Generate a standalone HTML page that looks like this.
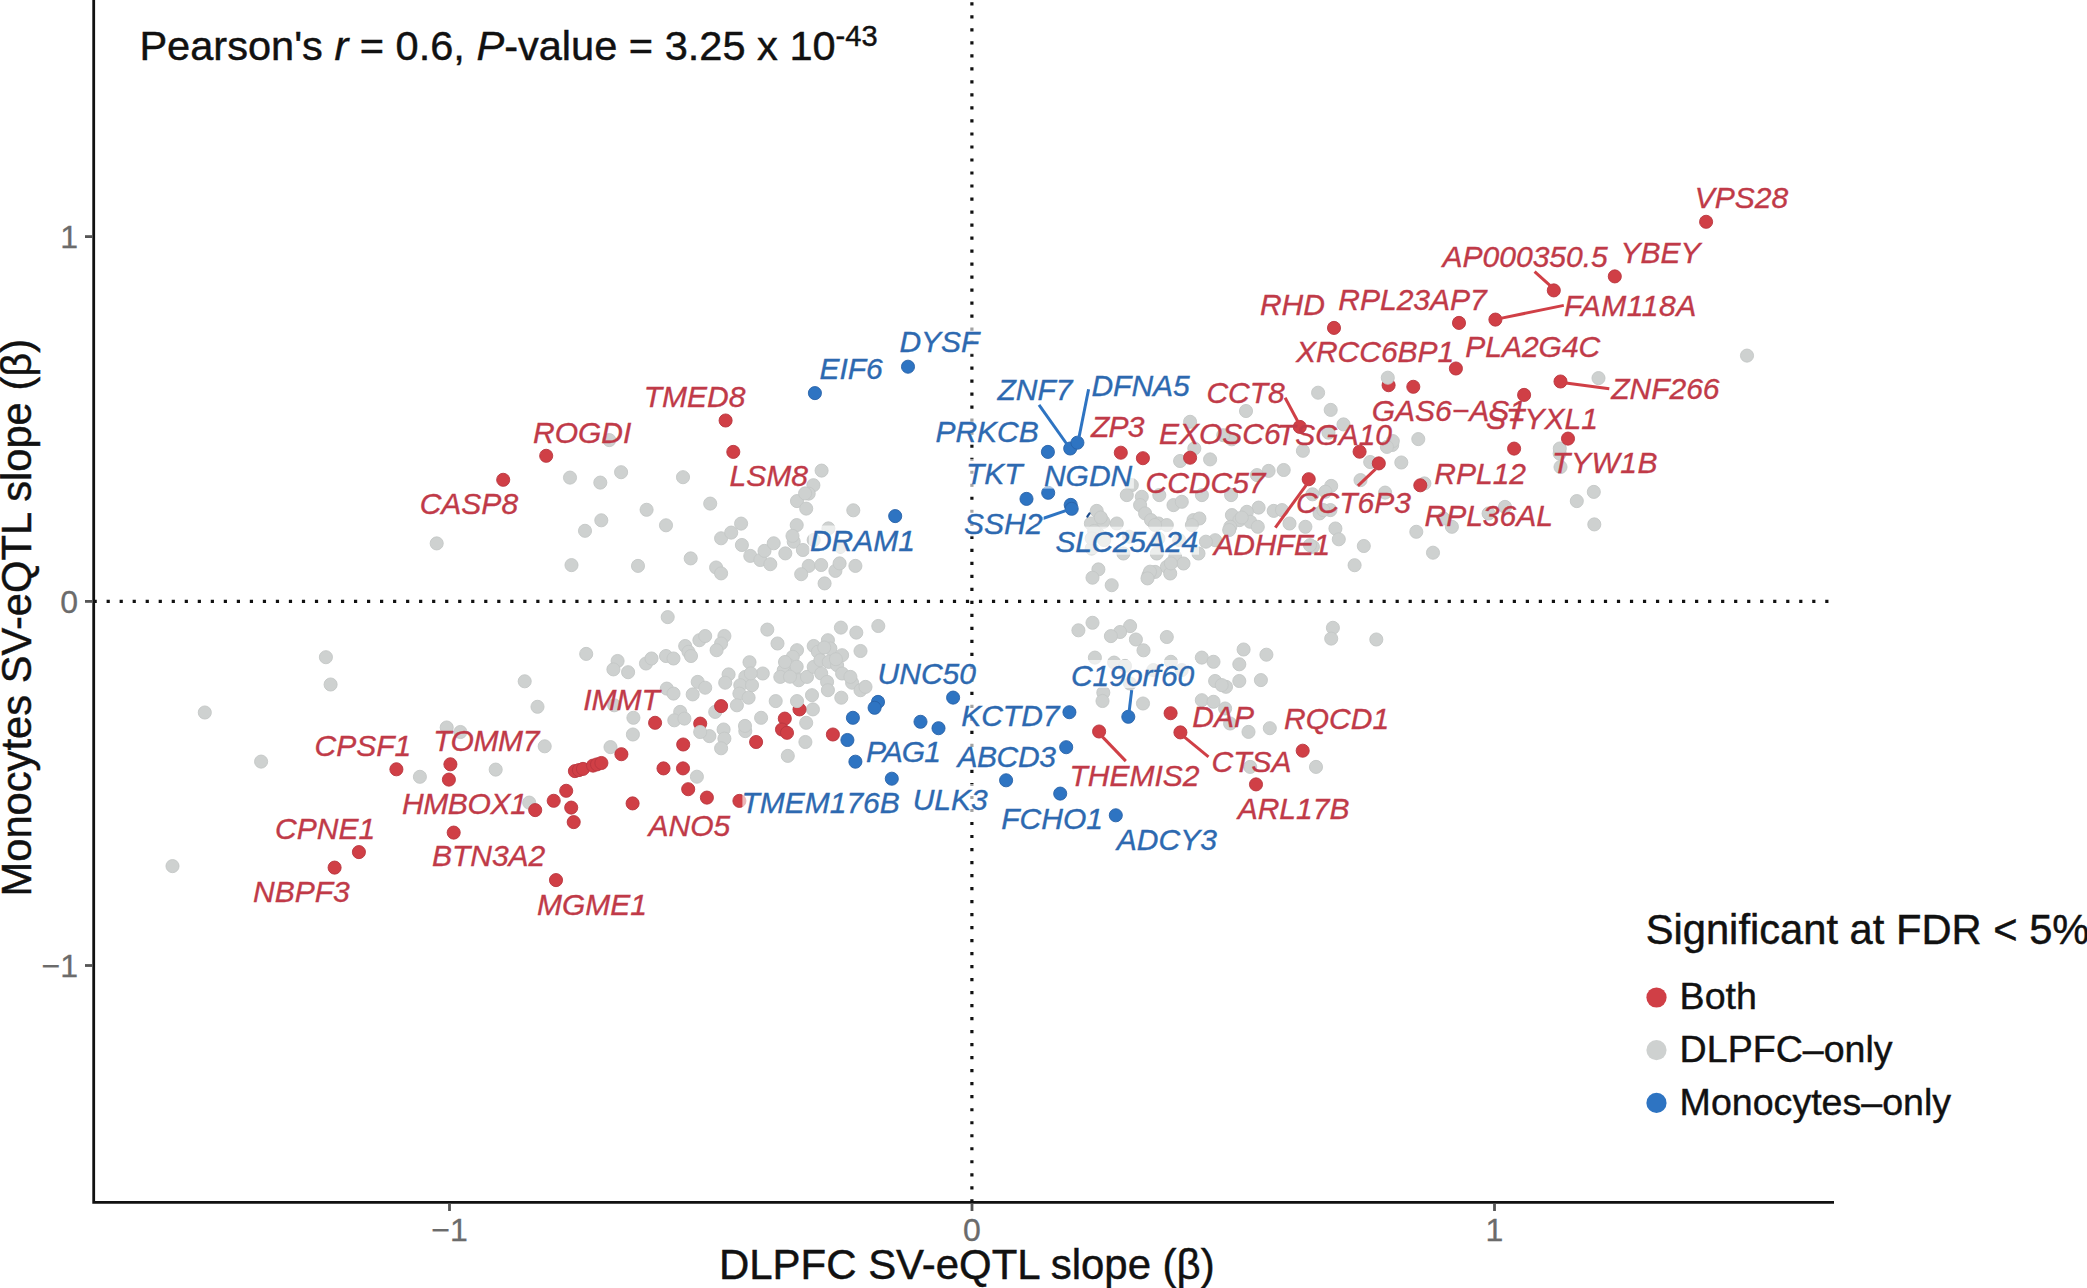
<!DOCTYPE html>
<html lang="en"><head><meta charset="utf-8"><title>SV-eQTL slope comparison</title>
<style>
html,body{margin:0;padding:0;background:#fff;}
body{width:2087px;height:1288px;overflow:hidden;}
svg{display:block;font-family:"Liberation Sans",sans-serif;}
.gl{font-style:italic;font-size:30px;stroke-width:0.35px;}
.ax{font-size:32px;fill:#6b6b6b;stroke:#6b6b6b;stroke-width:0.3px;}
.tt{font-size:41.7px;fill:#111;stroke:#111;stroke-width:0.45px;}
.lg{font-size:37.6px;fill:#111;stroke:#111;stroke-width:0.4px;}
</style></head><body>
<svg width="2087" height="1288" viewBox="0 0 2087 1288">
<rect width="2087" height="1288" fill="#fff"/>
<line x1="93.58" y1="601.4" x2="1834" y2="601.4" stroke="#111" stroke-width="3.2" stroke-dasharray="3.2 9.82"/>
<line x1="971.9" y1="2.28" x2="971.9" y2="1202" stroke="#111" stroke-width="3.2" stroke-dasharray="3.2 9.81"/>
<g fill="#CED1D0" stroke="#C4C7C6" stroke-width="0.9">
<circle cx="570.0" cy="477.6" r="6.55"/>
<circle cx="600.3" cy="482.6" r="6.55"/>
<circle cx="601.3" cy="520.3" r="6.55"/>
<circle cx="585.0" cy="530.8" r="6.55"/>
<circle cx="436.7" cy="543.4" r="6.55"/>
<circle cx="571.5" cy="565.1" r="6.55"/>
<circle cx="325.9" cy="657.2" r="6.55"/>
<circle cx="586.2" cy="653.9" r="6.55"/>
<circle cx="609.3" cy="440.1" r="6.55"/>
<circle cx="330.6" cy="684.5" r="6.55"/>
<circle cx="204.8" cy="712.5" r="6.55"/>
<circle cx="261.1" cy="761.6" r="6.55"/>
<circle cx="172.5" cy="866.1" r="6.55"/>
<circle cx="524.7" cy="681.3" r="6.55"/>
<circle cx="537.5" cy="706.8" r="6.55"/>
<circle cx="446.7" cy="727.5" r="6.55"/>
<circle cx="460.4" cy="732.0" r="6.55"/>
<circle cx="544.7" cy="746.3" r="6.55"/>
<circle cx="610.5" cy="747.1" r="6.55"/>
<circle cx="419.9" cy="776.8" r="6.55"/>
<circle cx="495.7" cy="769.6" r="6.55"/>
<circle cx="529.2" cy="802.6" r="6.55"/>
<circle cx="621.1" cy="472.2" r="6.55"/>
<circle cx="683.0" cy="477.2" r="6.55"/>
<circle cx="821.6" cy="470.6" r="6.55"/>
<circle cx="813.4" cy="485.2" r="6.55"/>
<circle cx="808.7" cy="493.6" r="6.55"/>
<circle cx="797.0" cy="501.1" r="6.55"/>
<circle cx="806.2" cy="508.6" r="6.55"/>
<circle cx="710.2" cy="503.6" r="6.55"/>
<circle cx="646.6" cy="509.8" r="6.55"/>
<circle cx="666.0" cy="525.3" r="6.55"/>
<circle cx="741.1" cy="523.6" r="6.55"/>
<circle cx="853.3" cy="510.3" r="6.55"/>
<circle cx="638.0" cy="565.9" r="6.55"/>
<circle cx="690.7" cy="558.4" r="6.55"/>
<circle cx="716.1" cy="567.5" r="6.55"/>
<circle cx="721.1" cy="573.4" r="6.55"/>
<circle cx="721.1" cy="538.3" r="6.55"/>
<circle cx="741.9" cy="545.0" r="6.55"/>
<circle cx="750.3" cy="555.9" r="6.55"/>
<circle cx="760.3" cy="560.0" r="6.55"/>
<circle cx="770.3" cy="564.2" r="6.55"/>
<circle cx="764.5" cy="550.9" r="6.55"/>
<circle cx="773.7" cy="543.3" r="6.55"/>
<circle cx="785.3" cy="553.4" r="6.55"/>
<circle cx="793.7" cy="541.7" r="6.55"/>
<circle cx="802.9" cy="550.0" r="6.55"/>
<circle cx="808.7" cy="565.9" r="6.55"/>
<circle cx="801.2" cy="574.2" r="6.55"/>
<circle cx="821.2" cy="565.0" r="6.55"/>
<circle cx="824.6" cy="583.4" r="6.55"/>
<circle cx="835.4" cy="570.9" r="6.55"/>
<circle cx="839.6" cy="563.4" r="6.55"/>
<circle cx="855.4" cy="565.9" r="6.55"/>
<circle cx="840.4" cy="546.7" r="6.55"/>
<circle cx="813.7" cy="540.0" r="6.55"/>
<circle cx="667.7" cy="617.1" r="6.55"/>
<circle cx="767.3" cy="629.6" r="6.55"/>
<circle cx="777.5" cy="643.5" r="6.55"/>
<circle cx="840.9" cy="627.6" r="6.55"/>
<circle cx="856.3" cy="632.6" r="6.55"/>
<circle cx="878.3" cy="626.0" r="6.55"/>
<circle cx="617.6" cy="661.0" r="6.55"/>
<circle cx="613.4" cy="669.4" r="6.55"/>
<circle cx="628.1" cy="672.2" r="6.55"/>
<circle cx="646.0" cy="663.5" r="6.55"/>
<circle cx="651.5" cy="658.5" r="6.55"/>
<circle cx="666.0" cy="656.0" r="6.55"/>
<circle cx="673.5" cy="658.5" r="6.55"/>
<circle cx="685.2" cy="646.0" r="6.55"/>
<circle cx="688.5" cy="651.8" r="6.55"/>
<circle cx="691.0" cy="656.0" r="6.55"/>
<circle cx="699.4" cy="640.2" r="6.55"/>
<circle cx="705.2" cy="636.0" r="6.55"/>
<circle cx="724.4" cy="636.0" r="6.55"/>
<circle cx="721.1" cy="643.5" r="6.55"/>
<circle cx="716.6" cy="650.2" r="6.55"/>
<circle cx="749.5" cy="662.2" r="6.55"/>
<circle cx="728.6" cy="674.4" r="6.55"/>
<circle cx="725.2" cy="682.7" r="6.55"/>
<circle cx="697.7" cy="681.9" r="6.55"/>
<circle cx="705.2" cy="687.7" r="6.55"/>
<circle cx="692.7" cy="694.4" r="6.55"/>
<circle cx="666.8" cy="688.6" r="6.55"/>
<circle cx="673.5" cy="693.6" r="6.55"/>
<circle cx="762.8" cy="673.5" r="6.55"/>
<circle cx="745.3" cy="676.9" r="6.55"/>
<circle cx="740.3" cy="685.2" r="6.55"/>
<circle cx="752.0" cy="685.2" r="6.55"/>
<circle cx="739.4" cy="693.6" r="6.55"/>
<circle cx="748.6" cy="697.7" r="6.55"/>
<circle cx="736.9" cy="705.3" r="6.55"/>
<circle cx="775.7" cy="701.1" r="6.55"/>
<circle cx="812.0" cy="695.2" r="6.55"/>
<circle cx="812.9" cy="709.4" r="6.55"/>
<circle cx="841.3" cy="697.7" r="6.55"/>
<circle cx="761.1" cy="717.8" r="6.55"/>
<circle cx="806.2" cy="722.8" r="6.55"/>
<circle cx="805.4" cy="742.0" r="6.55"/>
<circle cx="745.3" cy="731.1" r="6.55"/>
<circle cx="723.6" cy="729.5" r="6.55"/>
<circle cx="724.4" cy="738.6" r="6.55"/>
<circle cx="709.4" cy="736.1" r="6.55"/>
<circle cx="715.2" cy="711.9" r="6.55"/>
<circle cx="680.2" cy="711.9" r="6.55"/>
<circle cx="674.3" cy="720.3" r="6.55"/>
<circle cx="684.4" cy="718.6" r="6.55"/>
<circle cx="633.4" cy="717.8" r="6.55"/>
<circle cx="632.9" cy="734.5" r="6.55"/>
<circle cx="614.2" cy="705.3" r="6.55"/>
<circle cx="797.0" cy="650.2" r="6.55"/>
<circle cx="792.8" cy="656.8" r="6.55"/>
<circle cx="813.7" cy="646.0" r="6.55"/>
<circle cx="817.9" cy="651.8" r="6.55"/>
<circle cx="827.9" cy="640.2" r="6.55"/>
<circle cx="830.4" cy="648.5" r="6.55"/>
<circle cx="842.1" cy="655.2" r="6.55"/>
<circle cx="860.5" cy="651.0" r="6.55"/>
<circle cx="788.7" cy="665.2" r="6.55"/>
<circle cx="783.7" cy="670.2" r="6.55"/>
<circle cx="780.3" cy="676.9" r="6.55"/>
<circle cx="793.7" cy="673.5" r="6.55"/>
<circle cx="798.7" cy="680.2" r="6.55"/>
<circle cx="807.0" cy="676.9" r="6.55"/>
<circle cx="813.7" cy="666.9" r="6.55"/>
<circle cx="820.4" cy="660.2" r="6.55"/>
<circle cx="828.7" cy="661.9" r="6.55"/>
<circle cx="837.1" cy="665.2" r="6.55"/>
<circle cx="842.1" cy="673.5" r="6.55"/>
<circle cx="821.2" cy="673.5" r="6.55"/>
<circle cx="827.1" cy="681.9" r="6.55"/>
<circle cx="827.9" cy="690.2" r="6.55"/>
<circle cx="852.1" cy="682.7" r="6.55"/>
<circle cx="860.5" cy="690.2" r="6.55"/>
<circle cx="865.5" cy="686.9" r="6.55"/>
<circle cx="850.4" cy="676.9" r="6.55"/>
<circle cx="721.1" cy="748.3" r="6.55"/>
<circle cx="787.8" cy="755.9" r="6.55"/>
<circle cx="696.9" cy="776.7" r="6.55"/>
<circle cx="1246.0" cy="411.0" r="6.55"/>
<circle cx="1190.1" cy="421.8" r="6.55"/>
<circle cx="1194.3" cy="448.5" r="6.55"/>
<circle cx="1180.1" cy="461.0" r="6.55"/>
<circle cx="1210.1" cy="459.4" r="6.55"/>
<circle cx="1231.8" cy="439.3" r="6.55"/>
<circle cx="1302.9" cy="450.8" r="6.55"/>
<circle cx="1283.7" cy="470.0" r="6.55"/>
<circle cx="1268.6" cy="470.9" r="6.55"/>
<circle cx="1257.0" cy="475.1" r="6.55"/>
<circle cx="1401.3" cy="462.5" r="6.55"/>
<circle cx="1392.2" cy="445.0" r="6.55"/>
<circle cx="1360.5" cy="480.1" r="6.55"/>
<circle cx="1331.2" cy="485.9" r="6.55"/>
<circle cx="1325.4" cy="491.7" r="6.55"/>
<circle cx="1131.8" cy="485.1" r="6.55"/>
<circle cx="1126.8" cy="495.1" r="6.55"/>
<circle cx="1141.8" cy="496.8" r="6.55"/>
<circle cx="1140.1" cy="505.1" r="6.55"/>
<circle cx="1145.1" cy="513.4" r="6.55"/>
<circle cx="1151.0" cy="520.1" r="6.55"/>
<circle cx="1158.5" cy="523.5" r="6.55"/>
<circle cx="1166.8" cy="525.1" r="6.55"/>
<circle cx="1159.3" cy="495.1" r="6.55"/>
<circle cx="1173.5" cy="505.1" r="6.55"/>
<circle cx="1181.8" cy="501.8" r="6.55"/>
<circle cx="1201.9" cy="495.1" r="6.55"/>
<circle cx="1231.1" cy="495.1" r="6.55"/>
<circle cx="1258.6" cy="507.6" r="6.55"/>
<circle cx="1246.9" cy="511.8" r="6.55"/>
<circle cx="1231.9" cy="515.1" r="6.55"/>
<circle cx="1239.4" cy="520.1" r="6.55"/>
<circle cx="1250.3" cy="521.8" r="6.55"/>
<circle cx="1257.8" cy="526.8" r="6.55"/>
<circle cx="1230.3" cy="526.8" r="6.55"/>
<circle cx="1273.7" cy="510.9" r="6.55"/>
<circle cx="1282.0" cy="510.1" r="6.55"/>
<circle cx="1289.5" cy="523.5" r="6.55"/>
<circle cx="1305.4" cy="526.8" r="6.55"/>
<circle cx="1319.6" cy="513.4" r="6.55"/>
<circle cx="1330.4" cy="510.1" r="6.55"/>
<circle cx="1335.4" cy="528.5" r="6.55"/>
<circle cx="1338.8" cy="539.3" r="6.55"/>
<circle cx="1312.9" cy="546.8" r="6.55"/>
<circle cx="1363.8" cy="546.0" r="6.55"/>
<circle cx="1354.6" cy="565.2" r="6.55"/>
<circle cx="1096.7" cy="510.9" r="6.55"/>
<circle cx="1090.9" cy="523.5" r="6.55"/>
<circle cx="1103.4" cy="521.8" r="6.55"/>
<circle cx="1116.8" cy="523.5" r="6.55"/>
<circle cx="1097.6" cy="533.5" r="6.55"/>
<circle cx="1193.5" cy="520.1" r="6.55"/>
<circle cx="1199.4" cy="518.5" r="6.55"/>
<circle cx="1191.9" cy="525.1" r="6.55"/>
<circle cx="1215.2" cy="540.2" r="6.55"/>
<circle cx="1198.5" cy="553.5" r="6.55"/>
<circle cx="1175.2" cy="556.8" r="6.55"/>
<circle cx="1156.8" cy="553.5" r="6.55"/>
<circle cx="1123.4" cy="553.5" r="6.55"/>
<circle cx="1091.7" cy="548.5" r="6.55"/>
<circle cx="1166.8" cy="566.9" r="6.55"/>
<circle cx="1183.5" cy="563.5" r="6.55"/>
<circle cx="1170.2" cy="573.5" r="6.55"/>
<circle cx="1155.1" cy="571.9" r="6.55"/>
<circle cx="1148.5" cy="575.2" r="6.55"/>
<circle cx="1098.4" cy="569.4" r="6.55"/>
<circle cx="1092.5" cy="577.7" r="6.55"/>
<circle cx="1111.7" cy="585.2" r="6.55"/>
<circle cx="1092.5" cy="622.8" r="6.55"/>
<circle cx="1078.4" cy="630.3" r="6.55"/>
<circle cx="1130.1" cy="626.1" r="6.55"/>
<circle cx="1120.1" cy="632.0" r="6.55"/>
<circle cx="1110.9" cy="636.1" r="6.55"/>
<circle cx="1135.9" cy="639.5" r="6.55"/>
<circle cx="1166.8" cy="637.0" r="6.55"/>
<circle cx="1143.5" cy="650.3" r="6.55"/>
<circle cx="1243.6" cy="649.5" r="6.55"/>
<circle cx="1332.9" cy="627.8" r="6.55"/>
<circle cx="1331.2" cy="638.6" r="6.55"/>
<circle cx="1376.3" cy="639.5" r="6.55"/>
<circle cx="1094.9" cy="657.6" r="6.55"/>
<circle cx="1114.1" cy="662.6" r="6.55"/>
<circle cx="1125.0" cy="665.9" r="6.55"/>
<circle cx="1170.9" cy="661.8" r="6.55"/>
<circle cx="1201.8" cy="657.6" r="6.55"/>
<circle cx="1213.5" cy="661.8" r="6.55"/>
<circle cx="1239.3" cy="664.3" r="6.55"/>
<circle cx="1103.3" cy="692.6" r="6.55"/>
<circle cx="1102.5" cy="701.0" r="6.55"/>
<circle cx="1143.0" cy="703.5" r="6.55"/>
<circle cx="1215.1" cy="681.0" r="6.55"/>
<circle cx="1226.0" cy="686.8" r="6.55"/>
<circle cx="1239.3" cy="681.0" r="6.55"/>
<circle cx="1201.8" cy="700.2" r="6.55"/>
<circle cx="1213.5" cy="701.8" r="6.55"/>
<circle cx="1225.1" cy="708.5" r="6.55"/>
<circle cx="1230.1" cy="723.5" r="6.55"/>
<circle cx="1248.5" cy="731.9" r="6.55"/>
<circle cx="1250.2" cy="766.9" r="6.55"/>
<circle cx="1153.4" cy="670.1" r="6.55"/>
<circle cx="1181.7" cy="670.1" r="6.55"/>
<circle cx="1130.0" cy="683.5" r="6.55"/>
<circle cx="1318.1" cy="392.7" r="6.55"/>
<circle cx="1330.7" cy="409.9" r="6.55"/>
<circle cx="1343.5" cy="424.4" r="6.55"/>
<circle cx="1328.5" cy="432.7" r="6.55"/>
<circle cx="1392.8" cy="441.1" r="6.55"/>
<circle cx="1386.9" cy="446.9" r="6.55"/>
<circle cx="1418.3" cy="439.1" r="6.55"/>
<circle cx="1370.2" cy="462.0" r="6.55"/>
<circle cx="1559.7" cy="453.6" r="6.55"/>
<circle cx="1560.5" cy="467.0" r="6.55"/>
<circle cx="1223.3" cy="435.2" r="6.55"/>
<circle cx="1747.0" cy="355.6" r="6.55"/>
<circle cx="1598.5" cy="378.1" r="6.55"/>
<circle cx="1559.8" cy="448.5" r="6.55"/>
<circle cx="1593.8" cy="491.9" r="6.55"/>
<circle cx="1576.8" cy="501.1" r="6.55"/>
<circle cx="1594.3" cy="524.4" r="6.55"/>
<circle cx="1505.0" cy="506.9" r="6.55"/>
<circle cx="1424.4" cy="483.4" r="6.55"/>
<circle cx="1385.1" cy="492.6" r="6.55"/>
<circle cx="1312.5" cy="494.3" r="6.55"/>
<circle cx="1323.4" cy="510.1" r="6.55"/>
<circle cx="1310.0" cy="545.2" r="6.55"/>
<circle cx="1416.3" cy="531.8" r="6.55"/>
<circle cx="1451.9" cy="526.8" r="6.55"/>
<circle cx="1443.5" cy="518.5" r="6.55"/>
<circle cx="1433.0" cy="552.7" r="6.55"/>
<circle cx="1488.6" cy="513.5" r="6.55"/>
<circle cx="1266.4" cy="654.7" r="6.55"/>
<circle cx="1260.9" cy="680.1" r="6.55"/>
<circle cx="1221.7" cy="685.1" r="6.55"/>
<circle cx="1269.8" cy="728.2" r="6.55"/>
<circle cx="1316.0" cy="766.9" r="6.55"/>
<circle cx="805.1" cy="493.4" r="6.55"/>
<circle cx="796.7" cy="525.1" r="6.55"/>
<circle cx="828.4" cy="528.4" r="6.55"/>
<circle cx="792.5" cy="535.9" r="6.55"/>
<circle cx="785.0" cy="662.0" r="6.55"/>
<circle cx="1094.2" cy="530.9" r="6.55"/>
<circle cx="1100.8" cy="517.5" r="6.55"/>
<circle cx="1155.0" cy="525.0" r="6.55"/>
<circle cx="1229.2" cy="530.0" r="6.55"/>
<circle cx="1241.8" cy="517.5" r="6.55"/>
<circle cx="1205.9" cy="541.7" r="6.55"/>
<circle cx="1170.9" cy="563.4" r="6.55"/>
<circle cx="1150.0" cy="571.7" r="6.55"/>
<circle cx="1147.5" cy="578.4" r="6.55"/>
<circle cx="1091.7" cy="538.4" r="6.55"/>
<circle cx="1104.2" cy="540.0" r="6.55"/>
<circle cx="1129.2" cy="536.7" r="6.55"/>
<circle cx="1158.4" cy="538.4" r="6.55"/>
<circle cx="1179.2" cy="540.0" r="6.55"/>
<circle cx="824.2" cy="647.5" r="6.55"/>
<circle cx="835.9" cy="659.2" r="6.55"/>
<circle cx="796.7" cy="666.7" r="6.55"/>
<circle cx="790.0" cy="676.7" r="6.55"/>
<circle cx="750.8" cy="673.4" r="6.55"/>
<circle cx="745.0" cy="725.9" r="6.55"/>
<circle cx="731.2" cy="532.6" r="6.55"/>
</g>
<g fill="#2E74C2" stroke="#2862A8" stroke-width="0.9">
<circle cx="814.9" cy="393.1" r="6.55"/>
<circle cx="895.2" cy="516.1" r="6.55"/>
<circle cx="878.0" cy="701.9" r="6.55"/>
<circle cx="874.6" cy="707.8" r="6.55"/>
<circle cx="852.9" cy="717.8" r="6.55"/>
<circle cx="847.4" cy="740.0" r="6.55"/>
<circle cx="855.4" cy="761.7" r="6.55"/>
<circle cx="891.8" cy="778.7" r="6.55"/>
<circle cx="908.0" cy="366.7" r="6.55"/>
<circle cx="1047.9" cy="451.9" r="6.55"/>
<circle cx="1070.2" cy="448.5" r="6.55"/>
<circle cx="1077.4" cy="442.7" r="6.55"/>
<circle cx="1026.5" cy="498.9" r="6.55"/>
<circle cx="1048.2" cy="492.8" r="6.55"/>
<circle cx="1070.7" cy="504.9" r="6.55"/>
<circle cx="1071.7" cy="508.8" r="6.55"/>
<circle cx="953.1" cy="697.6" r="6.55"/>
<circle cx="920.5" cy="721.8" r="6.55"/>
<circle cx="938.5" cy="728.2" r="6.55"/>
<circle cx="1069.4" cy="712.2" r="6.55"/>
<circle cx="1128.3" cy="716.8" r="6.55"/>
<circle cx="1066.2" cy="747.2" r="6.55"/>
<circle cx="1006.1" cy="780.3" r="6.55"/>
<circle cx="1060.2" cy="793.6" r="6.55"/>
<circle cx="1115.8" cy="815.3" r="6.55"/>
</g>
<g fill="#D03F46" stroke="#B93740" stroke-width="0.9">
<circle cx="546.2" cy="455.8" r="6.55"/>
<circle cx="503.2" cy="479.8" r="6.55"/>
<circle cx="396.4" cy="769.3" r="6.55"/>
<circle cx="450.4" cy="764.3" r="6.55"/>
<circle cx="448.9" cy="779.6" r="6.55"/>
<circle cx="566.2" cy="790.8" r="6.55"/>
<circle cx="553.7" cy="800.8" r="6.55"/>
<circle cx="571.2" cy="807.6" r="6.55"/>
<circle cx="535.2" cy="810.1" r="6.55"/>
<circle cx="573.7" cy="822.1" r="6.55"/>
<circle cx="453.7" cy="832.6" r="6.55"/>
<circle cx="358.9" cy="852.1" r="6.55"/>
<circle cx="334.6" cy="867.6" r="6.55"/>
<circle cx="556.0" cy="880.1" r="6.55"/>
<circle cx="725.6" cy="420.5" r="6.55"/>
<circle cx="733.3" cy="451.9" r="6.55"/>
<circle cx="721.1" cy="706.1" r="6.55"/>
<circle cx="655.1" cy="722.8" r="6.55"/>
<circle cx="700.2" cy="723.6" r="6.55"/>
<circle cx="683.2" cy="744.5" r="6.55"/>
<circle cx="756.1" cy="742.0" r="6.55"/>
<circle cx="784.8" cy="718.6" r="6.55"/>
<circle cx="782.0" cy="729.5" r="6.55"/>
<circle cx="787.0" cy="732.8" r="6.55"/>
<circle cx="799.5" cy="709.4" r="6.55"/>
<circle cx="832.9" cy="734.5" r="6.55"/>
<circle cx="621.4" cy="754.2" r="6.55"/>
<circle cx="663.5" cy="768.4" r="6.55"/>
<circle cx="683.0" cy="768.4" r="6.55"/>
<circle cx="688.2" cy="789.2" r="6.55"/>
<circle cx="706.9" cy="797.6" r="6.55"/>
<circle cx="739.4" cy="800.9" r="6.55"/>
<circle cx="632.6" cy="803.4" r="6.55"/>
<circle cx="1120.8" cy="452.7" r="6.55"/>
<circle cx="1142.9" cy="458.2" r="6.55"/>
<circle cx="1190.1" cy="457.7" r="6.55"/>
<circle cx="1359.6" cy="451.7" r="6.55"/>
<circle cx="1378.8" cy="463.4" r="6.55"/>
<circle cx="1308.7" cy="479.2" r="6.55"/>
<circle cx="1170.6" cy="713.2" r="6.55"/>
<circle cx="1099.1" cy="731.5" r="6.55"/>
<circle cx="1180.4" cy="732.4" r="6.55"/>
<circle cx="1256.0" cy="784.4" r="6.55"/>
<circle cx="1334.0" cy="327.9" r="6.55"/>
<circle cx="1459.0" cy="322.9" r="6.55"/>
<circle cx="1495.4" cy="319.6" r="6.55"/>
<circle cx="1553.8" cy="290.4" r="6.55"/>
<circle cx="1455.9" cy="368.5" r="6.55"/>
<circle cx="1388.6" cy="385.2" r="6.55"/>
<circle cx="1413.3" cy="386.8" r="6.55"/>
<circle cx="1524.1" cy="394.9" r="6.55"/>
<circle cx="1560.5" cy="381.5" r="6.55"/>
<circle cx="1299.8" cy="426.9" r="6.55"/>
<circle cx="1514.1" cy="448.6" r="6.55"/>
<circle cx="1568.0" cy="438.6" r="6.55"/>
<circle cx="1420.3" cy="485.3" r="6.55"/>
<circle cx="1706.1" cy="221.8" r="6.55"/>
<circle cx="1614.8" cy="276.4" r="6.55"/>
<circle cx="1302.7" cy="750.7" r="6.55"/>
<circle cx="574.9" cy="771.1" r="6.55"/>
<circle cx="578.9" cy="770.1" r="6.55"/>
<circle cx="583.0" cy="768.9" r="6.55"/>
<circle cx="593.0" cy="765.6" r="6.55"/>
<circle cx="597.0" cy="764.4" r="6.55"/>
<circle cx="601.4" cy="763.0" r="6.55"/>
</g>
<g fill="#CED1D0" stroke="#C4C7C6" stroke-width="0.9">
<circle cx="797.0" cy="701.1" r="6.55"/>
<circle cx="700.2" cy="732.0" r="6.55"/>
<circle cx="1387.8" cy="377.7" r="6.55"/>
</g>
<line x1="1087.3" y1="516.6" x2="1089.6" y2="513.3" stroke="#1d4c8c" stroke-width="2.2" stroke-linecap="round"/>
<line x1="1039.0" y1="404.8" x2="1068.2" y2="446.0" stroke="#2E74C2" stroke-width="3" stroke-linecap="butt"/>
<line x1="1088.6" y1="389.3" x2="1079.1" y2="436.8" stroke="#2E74C2" stroke-width="3" stroke-linecap="butt"/>
<line x1="1039.9" y1="519.5" x2="1066.6" y2="510.3" stroke="#2E74C2" stroke-width="3" stroke-linecap="butt"/>
<line x1="1306.2" y1="485.1" x2="1275.3" y2="527.6" stroke="#D03F46" stroke-width="3" stroke-linecap="butt"/>
<line x1="1375.5" y1="469.2" x2="1357.9" y2="485.9" stroke="#D03F46" stroke-width="3" stroke-linecap="butt"/>
<line x1="1131.7" y1="690.1" x2="1129.2" y2="711.0" stroke="#2E74C2" stroke-width="3" stroke-linecap="butt"/>
<line x1="1102.5" y1="736.9" x2="1125.8" y2="761.1" stroke="#D03F46" stroke-width="3" stroke-linecap="butt"/>
<line x1="1184.2" y1="736.9" x2="1208.5" y2="756.9" stroke="#D03F46" stroke-width="3" stroke-linecap="butt"/>
<line x1="1534.6" y1="271.7" x2="1551.3" y2="286.7" stroke="#D03F46" stroke-width="3" stroke-linecap="butt"/>
<line x1="1500.4" y1="318.4" x2="1563.8" y2="305.4" stroke="#D03F46" stroke-width="3" stroke-linecap="butt"/>
<line x1="1285.1" y1="397.7" x2="1298.5" y2="422.7" stroke="#D03F46" stroke-width="3" stroke-linecap="butt"/>
<line x1="1565.9" y1="383.1" x2="1609.3" y2="388.7" stroke="#D03F46" stroke-width="3" stroke-linecap="butt"/>
<text class="gl" x="419.7" y="514.3" fill="#C03A48" stroke="#C03A48">CASP8</text>
<text class="gl" x="314.6" y="755.6" fill="#C03A48" stroke="#C03A48">CPSF1</text>
<text class="gl" x="433.2" y="751.3" fill="#C03A48" stroke="#C03A48" letter-spacing="-0.4">TOMM7</text>
<text class="gl" x="401.9" y="814.3" fill="#C03A48" stroke="#C03A48" letter-spacing="-0.35">HMBOX1</text>
<text class="gl" x="275.1" y="838.8" fill="#C03A48" stroke="#C03A48">CPNE1</text>
<text class="gl" x="431.9" y="866.4" fill="#C03A48" stroke="#C03A48">BTN3A2</text>
<text class="gl" x="253.1" y="902.1" fill="#C03A48" stroke="#C03A48">NBPF3</text>
<text class="gl" x="537.0" y="914.6" fill="#C03A48" stroke="#C03A48">MGME1</text>
<text class="gl" x="583.2" y="710.0" fill="#C03A48" stroke="#C03A48">IMMT</text>
<text class="gl" x="643.8" y="406.8" fill="#C03A48" stroke="#C03A48">TMED8</text>
<text class="gl" x="729.6" y="486.1" fill="#C03A48" stroke="#C03A48">LSM8</text>
<text class="gl" x="533.0" y="442.7" fill="#C03A48" stroke="#C03A48">ROGDI</text>
<text class="gl" x="648.6" y="835.5" fill="#C03A48" stroke="#C03A48">ANO5</text>
<text class="gl" x="1090.9" y="436.8" fill="#C03A48" stroke="#C03A48" letter-spacing="-0.8">ZP3</text>
<text class="gl" x="1159.0" y="444.4" fill="#C03A48" stroke="#C03A48">EXOSC6</text>
<text class="gl" x="1145.5" y="492.5" fill="#C03A48" stroke="#C03A48">CCDC57</text>
<text class="gl" x="1206.4" y="402.6" fill="#C03A48" stroke="#C03A48">CCT8</text>
<text class="gl" x="1295.9" y="513.4" fill="#C03A48" stroke="#C03A48">CCT6P3</text>
<text class="gl" x="1213.7" y="554.8" fill="#C03A48" stroke="#C03A48" letter-spacing="-0.35">ADHFE1</text>
<text class="gl" x="1192.3" y="727.2" fill="#C03A48" stroke="#C03A48">DAP</text>
<text class="gl" x="1069.4" y="785.6" fill="#C03A48" stroke="#C03A48">THEMIS2</text>
<text class="gl" x="1211.6" y="771.5" fill="#C03A48" stroke="#C03A48">CTSA</text>
<text class="gl" x="1259.9" y="314.7" fill="#C03A48" stroke="#C03A48">RHD</text>
<text class="gl" x="1338.3" y="310.1" fill="#C03A48" stroke="#C03A48">RPL23AP7</text>
<text class="gl" x="1295.9" y="362.1" fill="#C03A48" stroke="#C03A48">XRCC6BP1</text>
<text class="gl" x="1465.2" y="356.8" fill="#C03A48" stroke="#C03A48">PLA2G4C</text>
<text class="gl" x="1371.7" y="421.1" fill="#C03A48" stroke="#C03A48">GAS6−AS1</text>
<text class="gl" x="1486.1" y="428.6" fill="#C03A48" stroke="#C03A48">STYXL1</text>
<text class="gl" x="1277.0" y="445.3" fill="#C03A48" stroke="#C03A48">TSGA10</text>
<text class="gl" x="1434.3" y="483.7" fill="#C03A48" stroke="#C03A48">RPL12</text>
<text class="gl" x="1694.8" y="208.4" fill="#C03A48" stroke="#C03A48">VPS28</text>
<text class="gl" x="1620.5" y="262.7" fill="#C03A48" stroke="#C03A48">YBEY</text>
<text class="gl" x="1442.6" y="266.8" fill="#C03A48" stroke="#C03A48">AP000350.5</text>
<text class="gl" x="1564.1" y="316.1" fill="#C03A48" stroke="#C03A48" letter-spacing="0.55">FAM118A</text>
<text class="gl" x="1611.2" y="399.3" fill="#C03A48" stroke="#C03A48">ZNF266</text>
<text class="gl" x="1552.1" y="472.7" fill="#C03A48" stroke="#C03A48" letter-spacing="0.5">TYW1B</text>
<text class="gl" x="1424.5" y="525.6" fill="#C03A48" stroke="#C03A48">RPL36AL</text>
<text class="gl" x="1284.1" y="729.4" fill="#C03A48" stroke="#C03A48">RQCD1</text>
<text class="gl" x="1237.7" y="819.4" fill="#C03A48" stroke="#C03A48">ARL17B</text>
<rect x="818.4" y="353.8" width="66.0" height="28" fill="#fff" fill-opacity="0.62"/>
<text class="gl" x="819.4" y="379.3" fill="#2D69B0" stroke="#2D69B0">EIF6</text>
<rect x="742.4" y="787.1" width="158.0" height="28" fill="#fff" fill-opacity="0.62"/>
<text class="gl" x="741.4" y="812.6" fill="#2D69B0" stroke="#2D69B0">TMEM176B</text>
<rect x="898.4" y="326.2" width="85.0" height="28" fill="#fff" fill-opacity="0.62"/>
<text class="gl" x="899.4" y="351.7" fill="#2D69B0" stroke="#2D69B0">DYSF</text>
<rect x="994.5" y="374.6" width="81.0" height="28" fill="#fff" fill-opacity="0.62"/>
<text class="gl" x="997.5" y="400.1" fill="#2D69B0" stroke="#2D69B0">ZNF7</text>
<rect x="1090.4" y="370.4" width="102.0" height="28" fill="#fff" fill-opacity="0.62"/>
<text class="gl" x="1091.4" y="395.9" fill="#2D69B0" stroke="#2D69B0">DFNA5</text>
<rect x="934.4" y="416.7" width="105.0" height="28" fill="#fff" fill-opacity="0.62"/>
<text class="gl" x="935.4" y="442.2" fill="#2D69B0" stroke="#2D69B0">PRKCB</text>
<rect x="966.9" y="458.9" width="59.0" height="28" fill="#fff" fill-opacity="0.62"/>
<text class="gl" x="965.9" y="484.4" fill="#2D69B0" stroke="#2D69B0">TKT</text>
<rect x="1042.9" y="460.6" width="91.0" height="28" fill="#fff" fill-opacity="0.62"/>
<text class="gl" x="1043.9" y="486.1" fill="#2D69B0" stroke="#2D69B0">NGDN</text>
<rect x="963.0" y="508.5" width="81.0" height="28" fill="#fff" fill-opacity="0.62"/>
<text class="gl" x="964.0" y="534.0" fill="#2D69B0" stroke="#2D69B0">SSH2</text>
<rect x="1054.5" y="526.7" width="144.5" height="28" fill="#fff" fill-opacity="0.62"/>
<text class="gl" x="1055.5" y="552.2" fill="#2D69B0" stroke="#2D69B0" letter-spacing="-0.35">SLC25A24</text>
<rect x="877.6" y="658.5" width="100.0" height="28" fill="#fff" fill-opacity="0.62"/>
<text class="gl" x="877.6" y="684.0" fill="#2D69B0" stroke="#2D69B0">UNC50</text>
<rect x="960.2" y="700.0" width="102.0" height="28" fill="#fff" fill-opacity="0.62"/>
<text class="gl" x="961.2" y="725.5" fill="#2D69B0" stroke="#2D69B0">KCTD7</text>
<rect x="1070.9" y="660.0" width="125.0" height="28" fill="#fff" fill-opacity="0.62"/>
<text class="gl" x="1070.9" y="685.5" fill="#2D69B0" stroke="#2D69B0">C19orf60</text>
<rect x="865.0" y="736.7" width="75.0" height="28" fill="#fff" fill-opacity="0.62"/>
<text class="gl" x="866.0" y="762.2" fill="#2D69B0" stroke="#2D69B0" letter-spacing="-1.0">PAG1</text>
<rect x="954.4" y="741.4" width="103.4" height="28" fill="#fff" fill-opacity="0.62"/>
<text class="gl" x="957.4" y="766.9" fill="#2D69B0" stroke="#2D69B0" letter-spacing="-0.4">ABCD3</text>
<rect x="912.7" y="784.0" width="77.0" height="28" fill="#fff" fill-opacity="0.62"/>
<text class="gl" x="912.7" y="809.5" fill="#2D69B0" stroke="#2D69B0">ULK3</text>
<rect x="1000.3" y="803.8" width="102.0" height="28" fill="#fff" fill-opacity="0.62"/>
<text class="gl" x="1001.3" y="829.3" fill="#2D69B0" stroke="#2D69B0">FCHO1</text>
<rect x="1113.8" y="824.6" width="105.0" height="28" fill="#fff" fill-opacity="0.62"/>
<text class="gl" x="1116.8" y="850.1" fill="#2D69B0" stroke="#2D69B0">ADCY3</text>
<rect x="808.9" y="525.5" width="105.0" height="28" fill="#fff" fill-opacity="0.62"/>
<text class="gl" x="809.9" y="551.0" fill="#2D69B0" stroke="#2D69B0">DRAM1</text>
<path d="M93.7 0V1202.4H1834" fill="none" stroke="#111" stroke-width="2.8"/>
<line x1="85" y1="236.6" x2="92.3" y2="236.6" stroke="#555" stroke-width="2.8"/>
<line x1="85" y1="601.4" x2="92.3" y2="601.4" stroke="#555" stroke-width="2.8"/>
<line x1="85" y1="965.5" x2="92.3" y2="965.5" stroke="#555" stroke-width="2.8"/>
<line x1="449.5" y1="1203.8" x2="449.5" y2="1211" stroke="#555" stroke-width="2.8"/>
<line x1="972" y1="1203.8" x2="972" y2="1211" stroke="#555" stroke-width="2.8"/>
<line x1="1494.5" y1="1203.8" x2="1494.5" y2="1211" stroke="#555" stroke-width="2.8"/>
<text class="ax" x="78" y="248.1" text-anchor="end">1</text>
<text class="ax" x="78" y="612.9" text-anchor="end">0</text>
<text class="ax" x="78" y="977.0" text-anchor="end">−1</text>
<text class="ax" x="449.5" y="1241" text-anchor="middle">−1</text>
<text class="ax" x="972" y="1241" text-anchor="middle">0</text>
<text class="ax" x="1494.5" y="1241" text-anchor="middle">1</text>
<text class="tt" style="font-size:41.55px" x="139.4" y="60.4">Pearson's <tspan font-style="italic">r</tspan> = 0.6, <tspan font-style="italic">P</tspan>-value = 3.25 x 10<tspan font-size="29" dy="-14.5">-43</tspan></text>
<text class="tt" style="font-size:41.95px" x="719" y="1279.3">DLPFC SV-eQTL slope (β)</text>
<text class="tt" transform="translate(30.8 896.5) rotate(-90)">Monocytes SV-eQTL slope (β)</text>
<text class="tt" x="1645.7" y="943.6">Significant at FDR &lt; 5%</text>
<circle cx="1656.5" cy="997.5" r="10.1" fill="#D03F46"/>
<text class="lg" x="1679.6" y="1009.2">Both</text>
<circle cx="1656.5" cy="1050.1" r="10.1" fill="#CED1D0"/>
<text class="lg" x="1679.6" y="1061.8">DLPFC–only</text>
<circle cx="1656.5" cy="1102.9" r="10.1" fill="#2E74C2"/>
<text class="lg" x="1679.6" y="1114.6">Monocytes–only</text>
</svg></body></html>
